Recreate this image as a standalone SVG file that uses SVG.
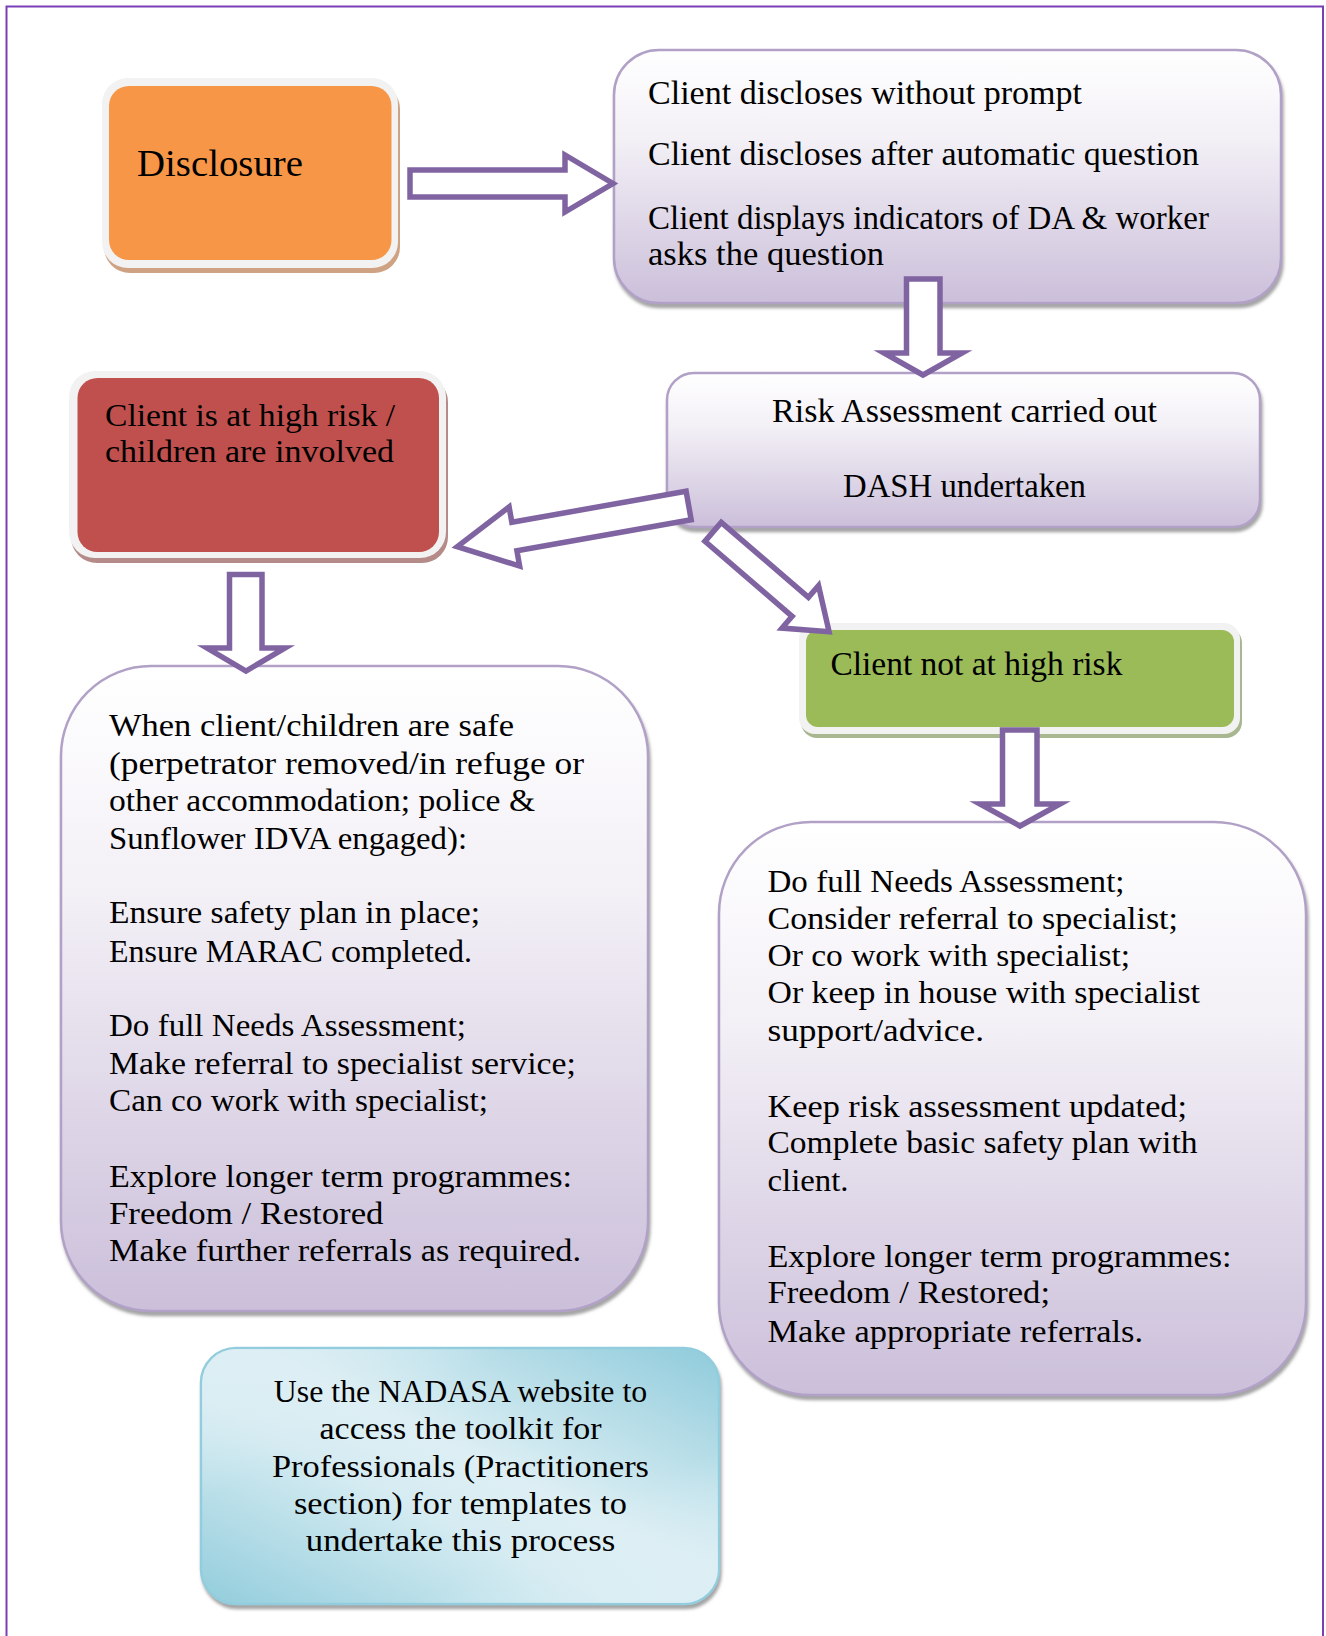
<svg xmlns="http://www.w3.org/2000/svg" width="1326" height="1636" viewBox="0 0 1326 1636">
<defs>
<linearGradient id="lav" x1="0" y1="0" x2="0" y2="1">
<stop offset="0" stop-color="#FFFFFF"/>
<stop offset="0.35" stop-color="#F3F0F6"/>
<stop offset="1" stop-color="#CBBFDA"/>
</linearGradient>
<linearGradient id="aqua" x1="1" y1="0" x2="0" y2="1">
<stop offset="0" stop-color="#8FCBDB"/>
<stop offset="0.45" stop-color="#DDEFF4"/>
<stop offset="0.6" stop-color="#D6ECF2"/>
<stop offset="1" stop-color="#92CDDC"/>
</linearGradient>
<linearGradient id="aqua2" x1="0" y1="0" x2="1" y2="1">
<stop offset="0" stop-color="#DDEFF4" stop-opacity="0.9"/>
<stop offset="0.3" stop-color="#DDEFF4" stop-opacity="0"/>
<stop offset="0.7" stop-color="#DDEFF4" stop-opacity="0"/>
<stop offset="1" stop-color="#DDEFF4" stop-opacity="0.9"/>
</linearGradient>
<filter id="sh" x="-5%" y="-5%" width="110%" height="115%">
<feDropShadow dx="1.5" dy="4" stdDeviation="1.5" flood-color="#7F7F7F" flood-opacity="0.7"/>
</filter>
</defs>
<style>
.t{font-family:"Liberation Serif","Times New Roman",serif;fill:#000}
.b{font-size:31px}
.h{font-size:33px}
.lav{fill:url(#lav);stroke:#B2A1C7;stroke-width:2.5;filter:url(#sh)}
.fr{fill:#F2F2F2}
.arr{fill:#FFFFFF;stroke:#8064A2;stroke-width:5.5;stroke-linejoin:miter;stroke-miterlimit:10}
</style>
<rect width="1326" height="1636" fill="#FFFFFF"/>
<path d="M6.5,1636 V6.5 H1323 V1636" fill="none" stroke="#7B3FB5" stroke-width="2"/>

<g id="disclosure">
<rect x="104" y="83" width="296" height="190" rx="26" fill="#CFA283"/>
<rect class="fr" x="102" y="78" width="296" height="190" rx="26"/>
<rect x="109" y="86" width="282.5" height="174" rx="20" fill="#F79646"/>
<text class="t" x="137" y="176" font-size="38" textLength="166" lengthAdjust="spacingAndGlyphs">Disclosure</text>
</g>

<g id="disclose-options">
<rect class="lav" x="614" y="50" width="667" height="253" rx="45"/>
<text class="t h" x="648" y="103.7" textLength="434" lengthAdjust="spacingAndGlyphs">Client discloses without prompt</text>
<text class="t h" x="648" y="165" textLength="551" lengthAdjust="spacingAndGlyphs">Client discloses after automatic question</text>
<text class="t h" x="648" y="228.7" textLength="561" lengthAdjust="spacingAndGlyphs">Client displays indicators of DA &amp; worker</text>
<text class="t h" x="648" y="265.3" textLength="236" lengthAdjust="spacingAndGlyphs">asks the question</text>
</g>

<g id="risk-assessment">
<rect class="lav" x="667" y="373" width="593" height="154" rx="27"/>
<text class="t h" x="964.5" y="421.5" text-anchor="middle" textLength="385" lengthAdjust="spacingAndGlyphs">Risk Assessment carried out</text>
<text class="t h" x="964.5" y="496.7" text-anchor="middle" textLength="243" lengthAdjust="spacingAndGlyphs">DASH undertaken</text>
</g>

<g id="high-risk">
<rect x="71" y="376" width="377" height="187" rx="26" fill="#B58B89"/>
<rect class="fr" x="69" y="371" width="377" height="187" rx="26"/>
<rect x="77.5" y="378" width="361.5" height="174" rx="20" fill="#C0504D"/>
<text class="t" x="105" y="425.5" font-size="32" textLength="290" lengthAdjust="spacingAndGlyphs">Client is at high risk /</text>
<text class="t" x="105" y="461.7" font-size="32" textLength="289" lengthAdjust="spacingAndGlyphs">children are involved</text>
</g>

<g id="not-high-risk">
<rect x="801" y="627" width="441" height="111" rx="16" fill="#A8B78F"/>
<rect class="fr" x="799" y="623" width="441" height="111" rx="16"/>
<rect x="806" y="630" width="428" height="97" rx="12" fill="#9BBB59"/>
<text class="t h" x="830.4" y="675" textLength="292" lengthAdjust="spacingAndGlyphs">Client not at high risk</text>
</g>

<g id="high-risk-actions">
<rect class="lav" x="61" y="666" width="587" height="645" rx="90"/>
<text class="t b" x="109" y="735.8" textLength="405" lengthAdjust="spacingAndGlyphs">When client/children are safe</text>
<text class="t b" x="109" y="773.5" textLength="475" lengthAdjust="spacingAndGlyphs">(perpetrator removed/in refuge or</text>
<text class="t b" x="109" y="810.8" textLength="426" lengthAdjust="spacingAndGlyphs">other accommodation; police &amp;</text>
<text class="t b" x="109" y="848.5" textLength="358" lengthAdjust="spacingAndGlyphs">Sunflower IDVA engaged):</text>
<text class="t b" x="109" y="923" textLength="371" lengthAdjust="spacingAndGlyphs">Ensure safety plan in place;</text>
<text class="t b" x="109" y="961.8" textLength="363" lengthAdjust="spacingAndGlyphs">Ensure MARAC completed.</text>
<text class="t b" x="109" y="1035.5" textLength="357" lengthAdjust="spacingAndGlyphs">Do full Needs Assessment;</text>
<text class="t b" x="109" y="1073.5" textLength="467" lengthAdjust="spacingAndGlyphs">Make referral to specialist service;</text>
<text class="t b" x="109" y="1110.8" textLength="379" lengthAdjust="spacingAndGlyphs">Can co work with specialist;</text>
<text class="t b" x="109" y="1186.5" textLength="463" lengthAdjust="spacingAndGlyphs">Explore longer term programmes:</text>
<text class="t b" x="109" y="1224.2" textLength="274.5" lengthAdjust="spacingAndGlyphs">Freedom / Restored</text>
<text class="t b" x="109" y="1260.8" textLength="472" lengthAdjust="spacingAndGlyphs">Make further referrals as required.</text>
</g>

<g id="not-high-risk-actions">
<rect class="lav" x="719" y="822" width="587" height="573" rx="92"/>
<text class="t b" x="767.5" y="892.2" textLength="357" lengthAdjust="spacingAndGlyphs">Do full Needs Assessment;</text>
<text class="t b" x="767.5" y="929.2" textLength="410.5" lengthAdjust="spacingAndGlyphs">Consider referral to specialist;</text>
<text class="t b" x="767.5" y="965.8" textLength="362.5" lengthAdjust="spacingAndGlyphs">Or co work with specialist;</text>
<text class="t b" x="767.5" y="1003.2" textLength="432.5" lengthAdjust="spacingAndGlyphs">Or keep in house with specialist</text>
<text class="t b" x="767.5" y="1040.8" textLength="216.5" lengthAdjust="spacingAndGlyphs">support/advice.</text>
<text class="t b" x="767.5" y="1116.5" textLength="419.5" lengthAdjust="spacingAndGlyphs">Keep risk assessment updated;</text>
<text class="t b" x="767.5" y="1153.2" textLength="430" lengthAdjust="spacingAndGlyphs">Complete basic safety plan with</text>
<text class="t b" x="767.5" y="1190.5" textLength="81" lengthAdjust="spacingAndGlyphs">client.</text>
<text class="t b" x="767.5" y="1266.5" textLength="464" lengthAdjust="spacingAndGlyphs">Explore longer term programmes:</text>
<text class="t b" x="767.5" y="1303.2" textLength="282.5" lengthAdjust="spacingAndGlyphs">Freedom / Restored;</text>
<text class="t b" x="767.5" y="1341.5" textLength="375.5" lengthAdjust="spacingAndGlyphs">Make appropriate referrals.</text>
</g>

<g id="nadasa-note">
<rect x="201" y="1348" width="518" height="256" rx="35" fill="url(#aqua)" stroke="#93CDDD" stroke-width="2.5" filter="url(#sh)"/>
<rect x="202" y="1349" width="516" height="254" rx="34" fill="url(#aqua2)"/>
<text class="t b" x="460.5" y="1402.2" text-anchor="middle" textLength="373.5" lengthAdjust="spacingAndGlyphs">Use the NADASA website to</text>
<text class="t b" x="460.5" y="1439" text-anchor="middle" textLength="282" lengthAdjust="spacingAndGlyphs">access the toolkit for</text>
<text class="t b" x="460.5" y="1477.2" text-anchor="middle" textLength="377" lengthAdjust="spacingAndGlyphs">Professionals (Practitioners</text>
<text class="t b" x="460.5" y="1514" text-anchor="middle" textLength="333" lengthAdjust="spacingAndGlyphs">section) for templates to</text>
<text class="t b" x="460.5" y="1551" text-anchor="middle" textLength="309.5" lengthAdjust="spacingAndGlyphs">undertake this process</text>
</g>

<g id="connectors">
<polygon class="arr" points="410,170 565,170 565,155 613,183.5 565,212 565,197 410,197"/>
<polygon class="arr" points="906.5,279 940,279 940,353 962,353 923,375 884,353 906.5,353"/>
<polygon class="arr" points="229.5,574.5 262,574.5 262,648 285,648 246,671 207,648 229.5,648"/>
<polygon class="arr" points="1002.5,730 1037,730 1037,804 1060,804 1020,826 980,804 1002.5,804"/>
<polygon class="arr" transform="translate(691.6,505) rotate(169.92)" points="3,-14.5 180,-14.5 180,-30 238,0 180,30 180,14.5 3,14.5"/>
<polygon class="arr" transform="translate(710.8,529.9) rotate(40.7)" points="3,-12.5 118,-12.5 118,-28 156,0 118,28 118,12.5 3,12.5"/>
</g>
</svg>
